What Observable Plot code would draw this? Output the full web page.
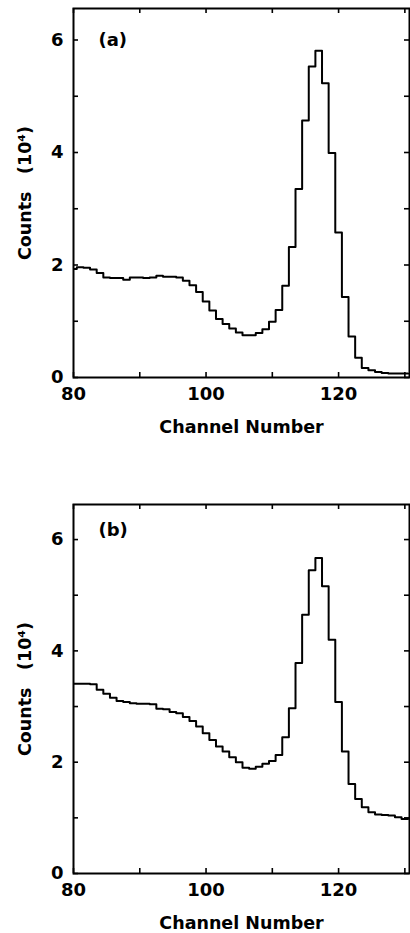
<!DOCTYPE html>
<html>
<head>
<meta charset="utf-8">
<script src="https://cdn.jsdelivr.net/npm/d3@7"></script>
<script src="https://cdn.jsdelivr.net/npm/@observablehq/plot@0.6"></script>
<style>
  body { margin: 0; background: #fff; }
  #chart svg { display: block; }
</style>
</head>
<body>
<div id="chart"></div>
<script>
// Channel numbers (one bin per channel)
const channels = d3.range(80, 131);

// Counts per channel, in units of 10^4 — spectrum (a)
const countsA = [
  1.93, 1.96, 1.95, 1.92, 1.86, 1.78, 1.77, 1.77, 1.74, 1.78,
  1.78, 1.77, 1.78, 1.81, 1.79, 1.79, 1.78, 1.72, 1.64, 1.52,
  1.35, 1.19, 1.04, 0.95, 0.87, 0.80, 0.75, 0.75, 0.79, 0.86,
  0.99, 1.20, 1.63, 2.32, 3.35, 4.57, 5.53, 5.81, 5.23, 3.99,
  2.58, 1.43, 0.73, 0.35, 0.17, 0.13, 0.10, 0.08, 0.07, 0.07,
  0.07
];

// Counts per channel, in units of 10^4 — spectrum (b)
const countsB = [
  3.41, 3.41, 3.41, 3.40, 3.30, 3.23, 3.16, 3.10, 3.08, 3.06,
  3.05, 3.05, 3.04, 2.96, 2.95, 2.90, 2.88, 2.81, 2.74, 2.64,
  2.52, 2.40, 2.28, 2.19, 2.09, 2.00, 1.90, 1.88, 1.92, 1.97,
  2.02, 2.13, 2.45, 2.97, 3.78, 4.65, 5.45, 5.67, 5.16, 4.20,
  3.08, 2.19, 1.61, 1.34, 1.19, 1.10, 1.06, 1.05, 1.04, 1.01,
  0.98
];

// Axis ticks and labels
const xTicks = [80, 90, 100, 110, 120, 130];
const xLabels = [80, 100, 120];
const yTicks = [0, 1, 2, 3, 4, 5, 6];
const yLabels = [0, 2, 4, 6];
const xTitle = "Channel Number";
const yTitle = "Counts\u2003(10\u2074)";

const W = 410, ML = 73, MR = 1;
const xDomain = [80, 130.7];
const tickPx = 5;
const font = "'DejaVu Sans', sans-serif";

function panel({counts, tag, tagDy, yMax, height, marginTop, marginBottom}) {
  // step outline: each channel's bin spans ch-0.5 .. ch+0.5
  const pts = channels.map((c, i) => ({x: c - 0.5, y: counts[i]}));
  pts.push({x: channels[channels.length - 1] + 0.5, y: counts[counts.length - 1]});

  const yDomain = [0, yMax];
  const plotH = height - marginTop - marginBottom;
  const ty = tickPx * (yDomain[1] - yDomain[0]) / plotH;
  const tx = tickPx * (xDomain[1] - xDomain[0]) / (W - ML - MR);

  return Plot.plot({
    width: W, height, marginTop, marginBottom, marginLeft: ML, marginRight: MR,
    x: {domain: xDomain},
    y: {domain: yDomain},
    style: {fontFamily: font, fontWeight: "bold", fontSize: "18px", background: "#fff", color: "#000", overflow: "visible"},
    marks: [
      // inward ticks on all four sides
      Plot.ruleX(xTicks, {x: d => d, y1: () => yDomain[0], y2: () => yDomain[0] + ty, strokeWidth: 1.6}),
      Plot.ruleX(xTicks, {x: d => d, y1: () => yDomain[1] - ty, y2: () => yDomain[1], strokeWidth: 1.6}),
      Plot.ruleY(yTicks, {y: d => d, x1: () => xDomain[0], x2: () => xDomain[0] + tx, strokeWidth: 1.6}),
      Plot.ruleY(yTicks, {y: d => d, x1: () => xDomain[1] - tx, x2: () => xDomain[1], strokeWidth: 1.6}),
      Plot.axisX({ticks: xLabels, tickFormat: d3.format("d"), tickSize: 0, tickPadding: 10, label: null, fontSize: 18}),
      Plot.axisY({ticks: yLabels, tickFormat: d3.format("d"), tickSize: 0, tickPadding: 10, label: null, fontSize: 18}),
      Plot.line(pts, {x: "x", y: "y", curve: "step-after", stroke: "#000", strokeWidth: 2, clip: true}),
      Plot.frame({stroke: "#000", strokeWidth: 2}),
      Plot.text([tag], {text: d => d, frameAnchor: "top-left", dx: 25, dy: tagDy, textAnchor: "start", lineAnchor: "middle", fontSize: 18}),
      Plot.text([xTitle], {text: d => d, frameAnchor: "bottom", dy: 50, textAnchor: "middle", lineAnchor: "middle", fontSize: 17.5, letterSpacing: "0.7px"}),
      Plot.text([yTitle], {text: d => d, frameAnchor: "left", dx: -48, rotate: -90, textAnchor: "middle", lineAnchor: "middle", fontSize: 17.5, letterSpacing: "0.7px"})
    ]
  });
}

const chart = document.getElementById("chart");
chart.append(panel({counts: countsA, tag: "(a)", tagDy: 32, yMax: 6.56, height: 445, marginTop: 8, marginBottom: 68}));
chart.append(panel({counts: countsB, tag: "(b)", tagDy: 26, yMax: 6.63, height: 488, marginTop: 59, marginBottom: 60}));
</script>
</body>
</html>
